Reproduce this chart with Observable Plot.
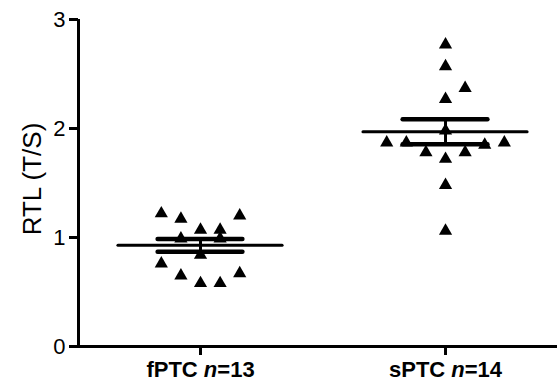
<!DOCTYPE html>
<html><head><meta charset="utf-8">
<script src="https://cdn.jsdelivr.net/npm/d3@7"></script>
<script src="https://cdn.jsdelivr.net/npm/@observablehq/plot@0.6"></script>
<style>body{margin:0;background:#fff} #chart{width:557px;height:388px}</style>
</head><body><div id="chart"></div>
<script>
// Data
const groups = ["fPTC", "sPTC"];
const groupN = [13, 14];
const fPTC = [1.22, 1.17, 1.20, 1.07, 1.07, 0.99, 0.99, 0.84, 0.76, 0.65, 0.58, 0.58, 0.67];
const fPTCslot = [-2, -1, 2, 0, 1, -1, 1, 0, -2, -1, 0, 1, 2];
const sPTC = [2.77, 2.57, 2.37, 2.27, 1.98, 1.87, 1.87, 1.78, 1.72, 1.78, 1.85, 1.87, 1.48, 1.06];
const sPTCslot = [0, 0, 1, 0, 0, -3, -2, -1, 0, 1, 2, 3, 0, 0];
const means = [0.928, 1.97];
const sems = [0.058, 0.115];
const yTicks = [0, 1, 2, 3];
const yLabel = "RTL (T/S)";

const SLOT = 0.08;      // horizontal spread of scatter columns (x units)
const MEANW = 0.335;    // half-width of mean line
const CAPW = 0.173;     // half-width of SEM caps
const X0 = -0.498, X1 = 1.457;

const points = [
  ...fPTC.map((v, j) => ({g: 0, v, slot: fPTCslot[j]})),
  ...sPTC.map((v, j) => ({g: 1, v, slot: sPTCslot[j]}))
];
const summary = groups.map((name, i) => ({i, mean: means[i], sem: sems[i]}));

const chart = Plot.plot({
  width: 557, height: 388,
  marginLeft: 78, marginRight: 0, marginTop: 19, marginBottom: 42,
  style: {fontFamily: "'Liberation Sans', Arial, sans-serif", background: "#fff", color: "#000", overflow: "visible"},
  x: {domain: [X0, X1], axis: null},
  y: {domain: [0, 3], axis: null},
  marks: [
    Plot.ruleX([X0], {y1: 0, y2: 3, stroke: "#000", strokeWidth: 3}),
    Plot.ruleY([0], {stroke: "#000", strokeWidth: 3}),
    Plot.axisY(yTicks, {tickSize: 9, tickPadding: 4, strokeWidth: 3, fontSize: 22, label: null, tickFormat: d => String(d)}),
    Plot.axisX([0, 1], {tickSize: 9, tickPadding: 6, strokeWidth: 3, fontSize: 22, fontWeight: "bold", label: null,
      tickFormat: i => `${groups[i]} n=${groupN[i]}`}),
    Plot.text([yLabel], {frameAnchor: "left", textAnchor: "middle", rotate: -90, dx: -46, dy: -4, fontSize: 26}),
    Plot.dot(points, {x: d => d.g + d.slot * SLOT, y: "v", symbol: "triangle", r: 4.9, fill: "#000", stroke: "none"}),
    Plot.ruleY(summary, {x1: d => d.i - MEANW, x2: d => d.i + MEANW, y: "mean", stroke: "#000", strokeWidth: 3, strokeLinecap: "round"}),
    Plot.ruleY(summary, {x1: d => d.i - CAPW, x2: d => d.i + CAPW, y: d => d.mean + d.sem, stroke: "#000", strokeWidth: 4.5, strokeLinecap: "round"}),
    Plot.ruleY(summary, {x1: d => d.i - CAPW, x2: d => d.i + CAPW, y: d => d.mean - d.sem, stroke: "#000", strokeWidth: 4.5, strokeLinecap: "round"}),
    Plot.ruleX(summary, {x: "i", y1: d => d.mean - d.sem, y2: d => d.mean + d.sem, stroke: "#000", strokeWidth: 3})
  ]
});

// italic "n" inside the category labels
d3.select(chart).selectAll('g[aria-label="x-axis tick label"] text').each(function() {
  const t = this.textContent;
  const m = t.match(/^(\S+) n=(\d+)$/);
  if (!m) return;
  const sel = d3.select(this);
  sel.text(null);
  sel.append("tspan").text(m[1] + " ");
  sel.append("tspan").attr("font-style", "italic").text("n");
  sel.append("tspan").text("=" + m[2]);
});
document.getElementById("chart").appendChild(chart);
</script>
</body></html>
